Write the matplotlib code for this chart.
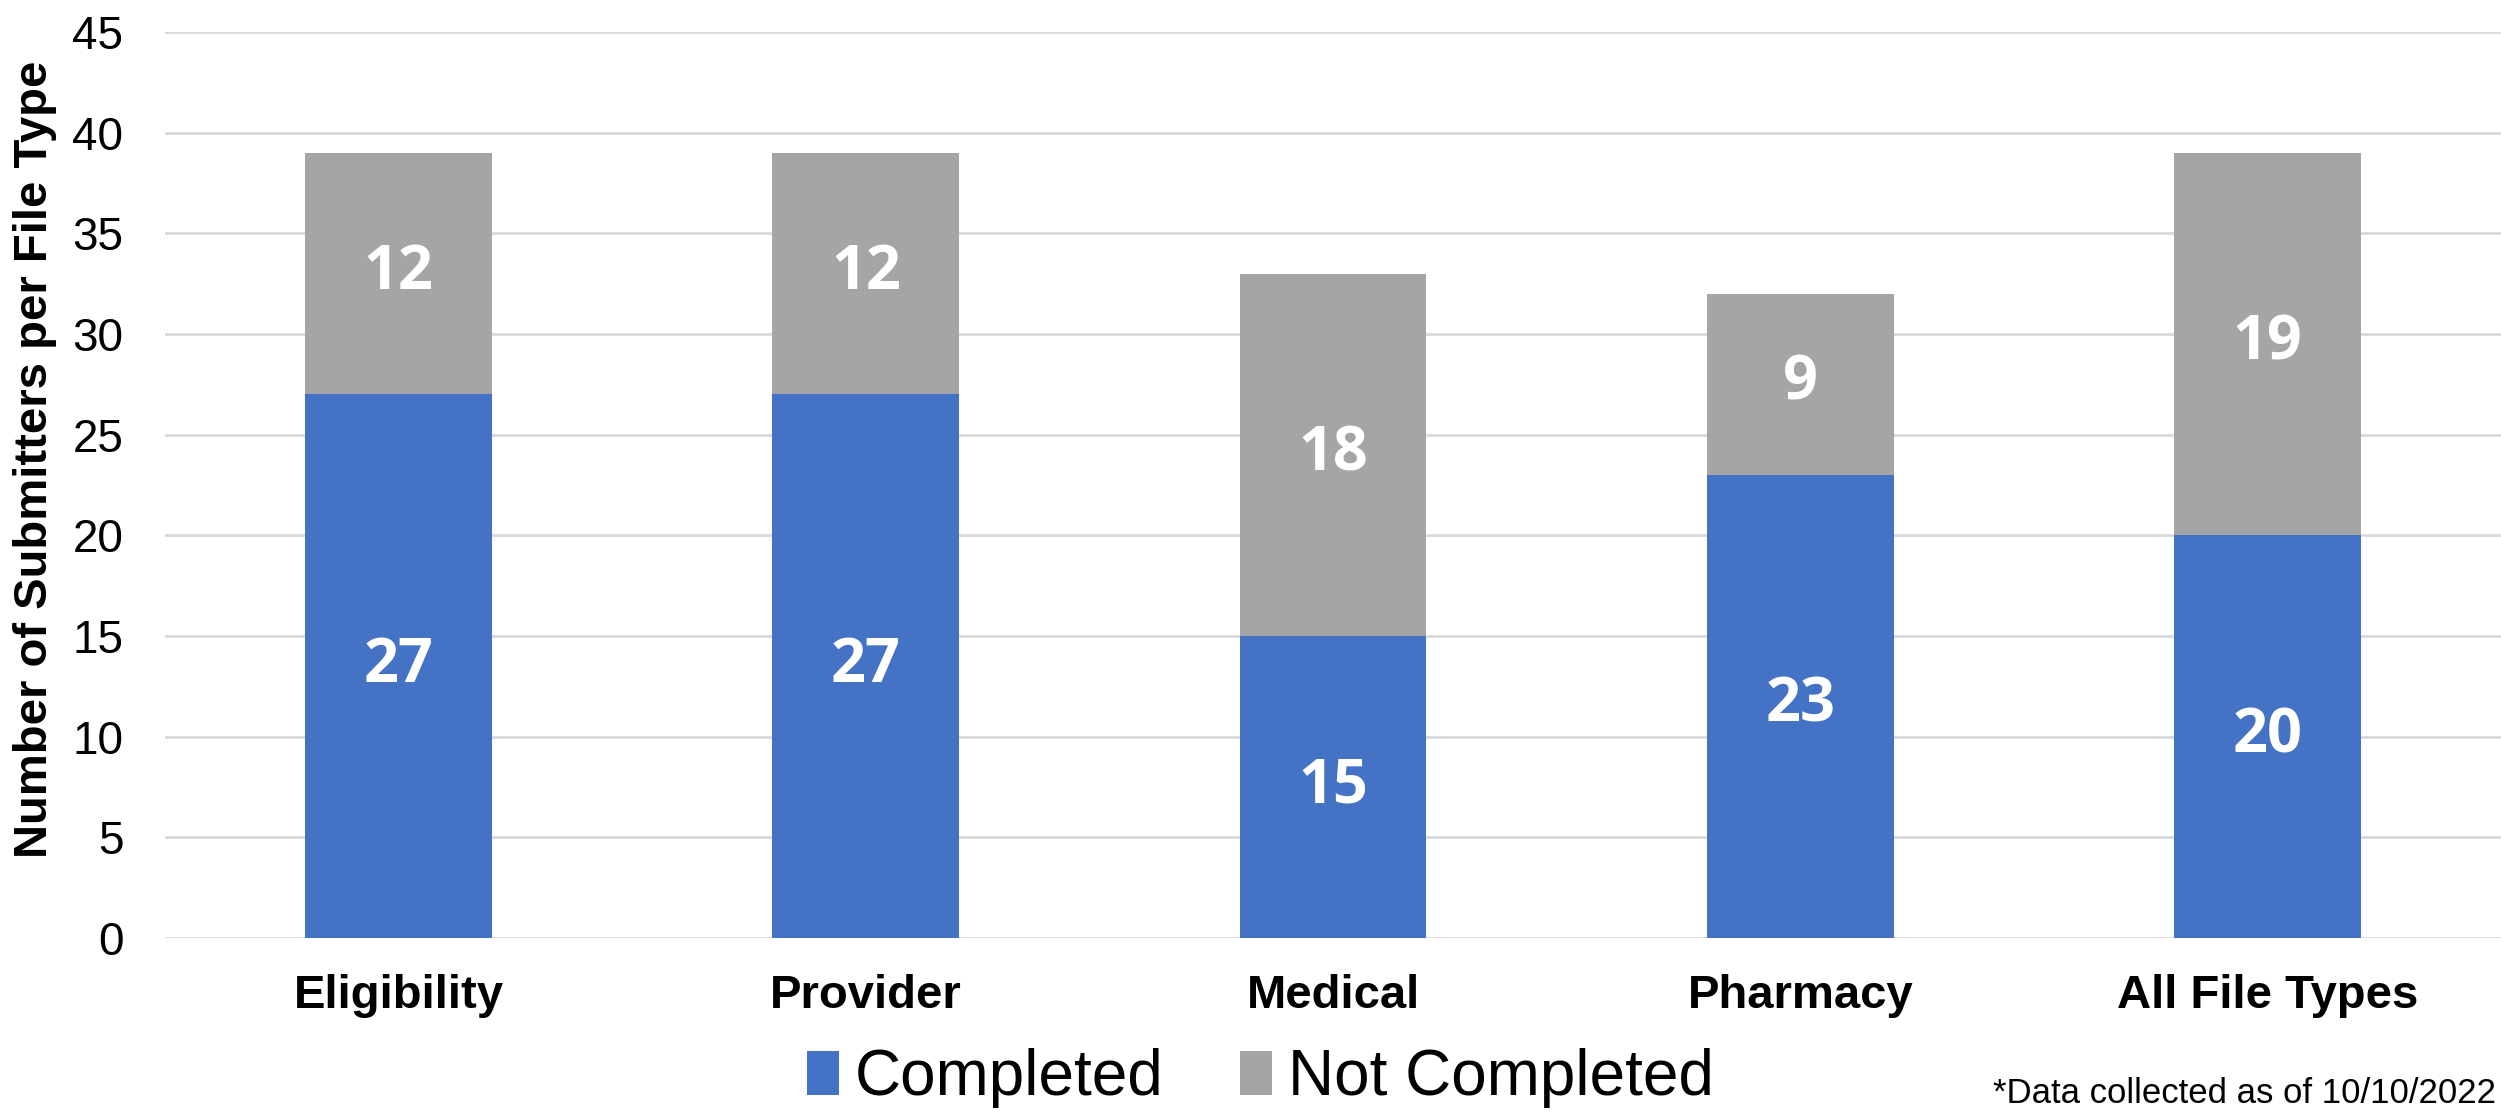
import matplotlib
matplotlib.use("Agg")
import matplotlib.pyplot as plt
from matplotlib import font_manager
import numpy as np

# Data
categories = ["Eligibility", "Provider", "Medical", "Pharmacy", "All File Types"]
completed = [27, 27, 15, 23, 20]
not_completed = [12, 12, 18, 9, 19]

BLUE = "#4472C4"
GRAY = "#A5A5A5"

names = {f.name for f in font_manager.fontManager.ttflist}
narrow = "Liberation Sans Narrow" if "Liberation Sans Narrow" in names else "Liberation Sans"
plt.rcParams["font.family"] = ["Liberation Sans", "DejaVu Sans"]

fig = plt.figure(figsize=(25.01, 11.14), dpi=100)
ax = fig.add_axes([0.066, 0.158, 0.934, 0.8133])

x = np.arange(len(categories))
w = 0.4
ax.bar(x, completed, w, color=BLUE, label="Completed", zorder=3)
ax.bar(x, not_completed, w, bottom=completed, color=GRAY, label="Not Completed", zorder=3)

# value labels in the middle of each segment
for i in range(len(categories)):
    ax.text(x[i], completed[i] / 2, str(completed[i]), ha="center", va="center",
            color="white", fontsize=44, fontweight="bold", family="Open Sans", zorder=4)
    ax.text(x[i], completed[i] + not_completed[i] / 2, str(not_completed[i]),
            ha="center", va="center", color="white", fontsize=44,
            fontweight="bold", family="Open Sans", zorder=4)

ax.set_xlim(-0.5, len(categories) - 0.5)
ax.set_ylim(0, 45)
ax.set_yticks(range(0, 46, 5))
ax.yaxis.grid(True, color="#D9D9D9", linewidth=2, zorder=0)
ax.set_axisbelow(True)
for s in ax.spines.values():
    s.set_visible(False)
ax.tick_params(axis="both", length=0)
ax.tick_params(axis="y", labelsize=33, pad=30)
ax.tick_params(axis="x", pad=26)
ax.set_xticks(x)
ax.set_xticklabels(categories, fontsize=34, fontweight="bold")

fig.text(0.014, 0.588, "Number of Submitters per File Type", rotation=90,
         ha="center", va="center", fontsize=34, fontweight="bold", family=narrow)

fig.legend(loc="center", bbox_to_anchor=(0.504, 0.032), ncol=2, frameon=False,
           prop={"family": narrow, "size": 46}, handlelength=0.5, handleheight=0.7,
           handletextpad=0.25, columnspacing=1.2, borderaxespad=0)

# footnote, kept just inside the bottom-right corner
fig.text(0.998, 0.004, "*Data collected as of 10/10/2022",
         ha="right", va="bottom", fontsize=25)

fig.savefig("out.png", dpi=100)
